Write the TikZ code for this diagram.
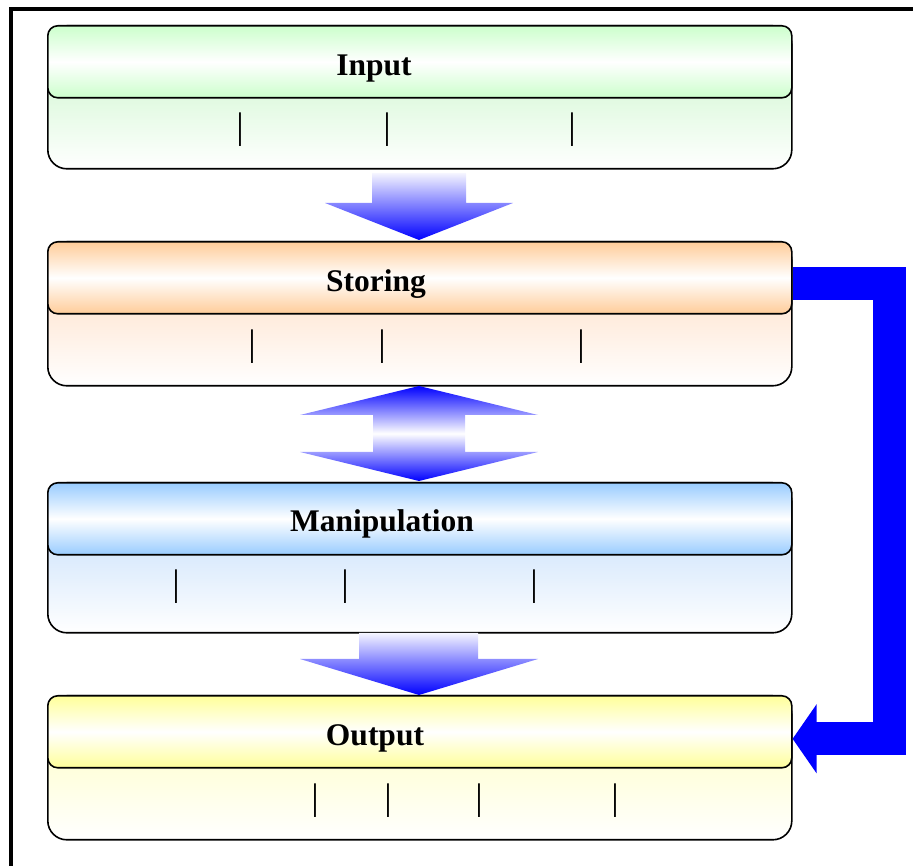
\documentclass[tikz,border=0pt]{standalone}
\usepackage{fontspec}
\setmainfont{Liberation Serif}
\usetikzlibrary{arrows.meta,calc}
\definecolor{gH}{RGB}{204,255,204}\definecolor{gB}{RGB}{195,245,195}
\definecolor{oH}{RGB}{255,204,153}\definecolor{oB}{RGB}{255,215,185}
\definecolor{bH}{RGB}{153,204,255}\definecolor{bB}{RGB}{185,215,250}
\definecolor{yH}{RGB}{255,255,153}\definecolor{yB}{RGB}{255,255,185}
\tikzset{bd/.style={draw,line width=1.6pt,rounded corners=19pt,minimum width=744pt,anchor=north west,inner sep=0pt,top color=#1,bottom color=white},
 hd/.style={draw,line width=1.6pt,rounded corners=10pt,minimum width=744pt,minimum height=72pt,anchor=north west,inner sep=0pt,top color=#1,bottom color=#1,middle color=white},
 ttl/.style={anchor=base,inner sep=0pt,font=\fontsize{31.5}{36}\selectfont\bfseries},
 bar/.style={inner sep=0pt,font=\fontsize{37}{40}\selectfont},
 blk/.style={top color=blue!4,bottom color=blue},
 conn/.style={draw=blue,line width=33pt,line join=miter,-{Triangle[length=24pt,width=68pt]}}}
\begin{document}
\begin{tikzpicture}[x=1pt,y=1pt]
\useasboundingbox (0,0) rectangle (913,866);
\draw[line width=3.6pt] (11,-30) rectangle (940,857);
% connector Storing -> Output
\coordinate (c1) at (889,300);
% boxes
\node[bd=gB,minimum height=143pt] (inb) at (47,841) {};\node[hd=gH] (inh) at (47,841) {};
\node[bd=oB,minimum height=144pt] (stb) at (47,625) {};\node[hd=oH] (sth) at (47,625) {};
\node[bd=bB,minimum height=150pt] (mab) at (47,384) {};\node[hd=bH] (mah) at (47,384) {};
\node[bd=yB,minimum height=144pt] (oub) at (47,171) {};\node[hd=yH] (ouh) at (47,171) {};
\draw[conn] ([yshift=-6pt]sth.east) -| (c1) |- ([yshift=-7pt]ouh.east);
% titles
\node[ttl] (int) at (374,790) {Input};
\node[ttl] (stt) at (376,574) {Storing};
\node[ttl] (mat) at (382,334) {Manipulation};
\node[ttl] (out) at (375,120) {Output};
% separators
\foreach \x in {240,387,572} \node[bar] at (\x,736) {|};
\foreach \x in {252,382,581} \node[bar] at (\x,519) {|};
\foreach \x in {176,345,534} \node[bar] at (\x,279) {|};
\foreach \x in {315,388,479,615} \node[bar] at (\x,65) {|};
% block arrows
\shade[blk] (372,693)--(466,693)--(466,663)--(513,663)--(419,626)--(325,663)--(372,663)--cycle;
\shade[top color=blue,bottom color=blue,middle color=white] (419,480)--(538,451)--(465,451)--(465,414)--(538,414)--(419,385)--(300,414)--(373,414)--(373,451)--(300,451)--cycle;
\shade[blk] (359,233)--(478,233)--(478,207)--(538,207)--(419,171)--(300,207)--(359,207)--cycle;
\end{tikzpicture}
\end{document}
